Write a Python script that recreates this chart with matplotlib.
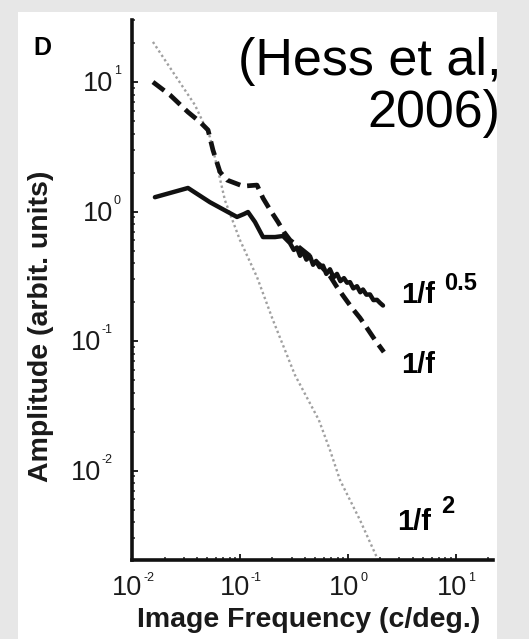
import numpy as np
import matplotlib
matplotlib.use('Agg')
import matplotlib.pyplot as plt
from matplotlib.patches import Rectangle

plt.rcParams['font.family'] = ['Liberation Sans', 'DejaVu Sans']

W, H = 529, 639

# amplitude spectra (c/deg. vs arbitrary units)
freq_sqrt = [0.0163, 0.0330, 0.0527, 0.0938, 0.109, 0.1186, 0.1377, 0.1633, 0.211, 0.250,
             0.290, 0.315, 0.337, 0.360, 0.383, 0.412, 0.445, 0.475, 0.506, 0.545,
             0.587, 0.630, 0.681, 0.735, 0.791, 0.850, 0.918, 0.980, 1.044, 1.12,
             1.211, 1.30, 1.377, 1.48, 1.599, 1.72, 1.857, 1.98, 2.11]
amp_sqrt = [1.29, 1.52, 1.18, 0.908, 0.957, 0.991, 0.830, 0.635, 0.635, 0.647,
            0.571, 0.505, 0.528, 0.455, 0.492, 0.425, 0.452, 0.388, 0.415, 0.372,
            0.382, 0.330, 0.358, 0.310, 0.330, 0.290, 0.306, 0.282, 0.285, 0.255,
            0.265, 0.238, 0.250, 0.228, 0.229, 0.207, 0.208, 0.197, 0.188]

freq_inv = [0.01563, 0.0225, 0.0330, 0.0427, 0.0506, 0.0562, 0.0653, 0.0759, 0.1067, 0.1437,
            0.1633, 0.190, 0.225, 0.255, 0.290, 0.360, 0.445, 0.551, 0.681, 0.791,
            0.918, 1.089, 1.291, 1.499, 1.778, 2.15]
amp_inv = [10.0, 7.94, 5.86, 4.91, 4.26, 2.98, 2.02, 1.75, 1.57, 1.60,
           1.27, 1.03, 0.830, 0.695, 0.603, 0.522, 0.453, 0.386, 0.318, 0.261,
           0.219, 0.180, 0.151, 0.126, 0.102, 0.0822]

freq_sq = [0.01563, 0.0250, 0.0383, 0.0527, 0.0625, 0.0726, 0.100, 0.1437, 0.202, 0.323,
           0.538, 0.681, 0.843, 1.291, 1.897, 2.25]
amp_sq = [20.4, 11.3, 6.64, 3.76, 2.09, 1.22, 0.601, 0.312, 0.145, 0.0546,
          0.0245, 0.0144, 0.00845, 0.00415, 0.00204, 0.00143]

x_exps = [-2, -1, 0, 1]
y_exps = [-2, -1, 0, 1]


def fxy(x, y):
    return x / W, 1 - y / H


fig = plt.figure(figsize=(W / 100, H / 100), dpi=100, facecolor='#e7e7e7')
fig.patches.append(Rectangle((18 / W, 0), 479 / W, 627 / H, transform=fig.transFigure,
                             facecolor='white', edgecolor='none', zorder=-5))

ax = fig.add_axes([132 / W, (H - 560) / H, (493 - 132) / W, (560 - 20) / H])
ax.set_zorder(2)
ax.set_facecolor('none')
ax.set_xscale('log')
ax.set_yscale('log')
ax.set_xlim(10 ** -2, 10 ** 1.343)
ax.set_ylim(10 ** -2.691, 10 ** 1.479)

ax.plot(freq_sq, amp_sq, color='#a0a0a0', lw=1.7, linestyle=(0, (1, 1.2)))
ax.plot(freq_inv, amp_inv, color='#111111', lw=3.4, linestyle=(0, (3.0, 1.5)))
ax.plot(freq_sqrt, amp_sqrt, color='#111111', lw=3.2, solid_joinstyle='round',
        solid_capstyle='round')

for side in ['top', 'right']:
    ax.spines[side].set_visible(False)
for side in ['left', 'bottom']:
    ax.spines[side].set_linewidth(2.6)
    ax.spines[side].set_color('#111111')

ax.set_xticks([10.0 ** e for e in x_exps])
ax.set_yticks([10.0 ** e for e in y_exps])
ax.set_xticklabels([])
ax.set_yticklabels([])
ax.tick_params(which='major', direction='in', length=4, width=1.4, color='#222222')
ax.tick_params(which='minor', direction='in', length=2.5, width=1.2, color='#333333')

# tick labels with small superscripts
for e in x_exps:
    dx = 10 if e < 0 else 11.5
    ax.annotate('10', xy=(10.0 ** e, 0), xycoords=('data', 'axes fraction'),
                xytext=(dx, -28), textcoords='offset pixels',
                ha='right', va='center', fontsize=19.5, color='#1a1a1a')
    ax.annotate(str(e), xy=(10.0 ** e, 0), xycoords=('data', 'axes fraction'),
                xytext=(dx + 1, -18), textcoords='offset pixels',
                ha='left', va='center', fontsize=9, color='#1a1a1a')
for e in y_exps:
    dx = -31 if e < 0 else -19
    ax.annotate('10', xy=(0, 10.0 ** e), xycoords=('axes fraction', 'data'),
                xytext=(dx, -2), textcoords='offset pixels',
                ha='right', va='center', fontsize=19.5, color='#1a1a1a')
    ax.annotate(str(e), xy=(0, 10.0 ** e), xycoords=('axes fraction', 'data'),
                xytext=(dx + 1, 11), textcoords='offset pixels',
                ha='left', va='center', fontsize=9, color='#1a1a1a')

fig.text(*fxy(309, 620), 'Image Frequency (c/deg.)', ha='center', va='center',
         fontsize=20.5, fontweight='bold', color='#1a1a1a')
fig.text(*fxy(41, 326), 'Amplitude (arbit. units)', ha='center', va='center',
         rotation=90, fontsize=20.5, fontweight='bold', color='#1a1a1a')

fig.text(*fxy(33, 55), 'D', ha='left', va='baseline', fontsize=18, fontweight='bold')

# curve labels
fig.text(*fxy(401, 303), '1/f', ha='left', va='baseline', fontsize=21, fontweight='bold')
fig.text(*fxy(444, 290), '0.5', ha='left', va='baseline', fontsize=17, fontweight='bold')
fig.text(*fxy(401, 373), '1/f', ha='left', va='baseline', fontsize=21, fontweight='bold')
fig.text(*fxy(397, 530), '1/f', ha='left', va='baseline', fontsize=21, fontweight='bold')
fig.text(*fxy(441, 513), '2', ha='left', va='baseline', fontsize=17, fontweight='bold')

fig.text(*fxy(238, 75), '(Hess et al,', ha='left', va='baseline', fontsize=37.5)
fig.text(*fxy(367, 127), '2006)', ha='left', va='baseline', fontsize=37.5)

fig.savefig('out.png', dpi=100, facecolor=fig.get_facecolor())
